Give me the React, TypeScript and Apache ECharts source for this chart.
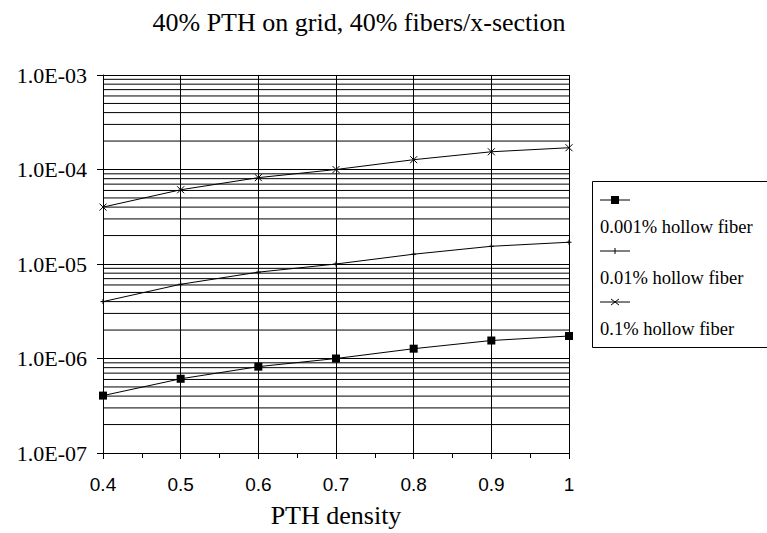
import React, { useEffect, useRef } from "react";
import * as echarts from "echarts";

const titleText = "40% PTH on grid, 40% fibers/x-section";
const xAxisName = "PTH density";
const pthDensity = [0.4, 0.5, 0.6, 0.7, 0.8, 0.9, 1.0];
const seriesNames = ["0.001% hollow fiber", "0.01% hollow fiber", "0.1% hollow fiber"];
const fiber0001 = [4.05e-7, 6.1e-7, 8.2e-7, 1.0e-6, 1.27e-6, 1.55e-6, 1.73e-6];
const fiber001 = [4.0e-6, 6.1e-6, 8.2e-6, 1.0e-5, 1.27e-5, 1.54e-5, 1.7e-5];
const fiber01 = [4.0e-5, 6.1e-5, 8.2e-5, 1.0e-4, 1.27e-4, 1.54e-4, 1.7e-4];
const yDecades = [1e-7, 1e-6, 1e-5, 1e-4];
const minorMultipliers = [2, 3, 4, 5, 6, 7, 8, 9];

const SERIF = "Liberation Serif";
const SANS = "Liberation Sans";

const plusPath = "path://M5,0L5,10M0,5L10,5";
const crossPath = "path://M0,0L10,10M10,0L0,10";

export default function App() {
  const ref = useRef<HTMLDivElement>(null);

  useEffect(() => {
    if (!ref.current) return;
    const chart = echarts.init(ref.current, undefined, { renderer: "svg" });

    const xFirst = pthDensity[0];
    const xLast = pthDensity[pthDensity.length - 1];
    const minorGrid: any[] = [];
    yDecades.forEach((d) =>
      minorMultipliers.forEach((m) => {
        const v = d * m;
        minorGrid.push([xFirst, v], [xLast, v], [xLast, "-"]);
      })
    );

    const toPairs = (vals: number[]) => pthDensity.map((x, i) => [x, vals[i]]);

    const lineStyle = { color: "#000", width: 1 };

    const legendX = 600;
    const legendRows = [200, 251, 302];
    const legendGraphics: any[] = [
      {
        type: "rect",
        shape: { x: 592.5, y: 181.5, width: 200, height: 166 },
        style: { fill: "#fff", stroke: "#000", lineWidth: 1 },
      },
    ];
    legendRows.forEach((yy, i) => {
      legendGraphics.push({
        type: "line",
        shape: { x1: legendX, y1: yy, x2: legendX + 30, y2: yy },
        style: { stroke: "#000", lineWidth: 1 },
      });
      const cx = legendX + 15;
      if (i === 0) {
        legendGraphics.push({
          type: "rect",
          shape: { x: cx - 4, y: yy - 4, width: 8, height: 8 },
          style: { fill: "#000" },
        });
      } else if (i === 1) {
        legendGraphics.push({
          type: "line",
          shape: { x1: cx, y1: yy - 3, x2: cx, y2: yy + 3 },
          style: { stroke: "#000", lineWidth: 1 },
        });
      } else {
        legendGraphics.push(
          {
            type: "line",
            shape: { x1: cx - 4, y1: yy - 3, x2: cx + 4, y2: yy + 3 },
            style: { stroke: "#000", lineWidth: 1 },
          },
          {
            type: "line",
            shape: { x1: cx - 4, y1: yy + 3, x2: cx + 4, y2: yy - 3 },
            style: { stroke: "#000", lineWidth: 1 },
          }
        );
      }
      legendGraphics.push({
        type: "text",
        x: legendX,
        y: yy + 27,
        style: {
          text: seriesNames[i],
          fill: "#000",
          fontFamily: SERIF,
          fontSize: 18.5,
          verticalAlign: "middle",
          align: "left",
        },
      });
    });

    const option: any = {
      animation: false,
      backgroundColor: "#fff",
      title: {
        text: titleText,
        left: 354,
        textAlign: "center",
        top: 4,
        textStyle: { fontFamily: SERIF, fontSize: 26, fontWeight: "normal", color: "#000" },
      },
      grid: { left: 103, right: 198, top: 75, bottom: 77 },
      xAxis: {
        type: "value",
        min: 0.4,
        max: 1,
        interval: 0.1,
        name: xAxisName,
        nameLocation: "middle",
        nameGap: 49,
        nameTextStyle: { fontFamily: SERIF, fontSize: 26, color: "#000" },
        axisLine: { lineStyle: { color: "#000", width: 1 } },
        axisTick: { show: true, length: 6, lineStyle: { color: "#000" } },
        minorTick: { show: true, splitNumber: 2, length: 5, lineStyle: { color: "#000" } },
        axisLabel: {
          margin: 22,
          fontFamily: SANS,
          fontSize: 19,
          color: "#000",
          formatter: (v: number) => String(Math.round(v * 10) / 10),
        },
        splitLine: { show: true, lineStyle: { color: "#000", width: 1 } },
      },
      yAxis: {
        type: "log",
        logBase: 10,
        min: 1e-7,
        max: 1e-3,
        axisLine: { show: true, lineStyle: { color: "#000", width: 1 } },
        axisTick: { show: true, length: 6, lineStyle: { color: "#000" } },
        axisLabel: {
          margin: 16,
          fontFamily: SERIF,
          fontSize: 22,
          color: "#000",
          formatter: (v: number) => {
            const e = Math.round(Math.log10(v));
            const a = Math.abs(e);
            return "1.0E" + (e < 0 ? "-" : "+") + (a < 10 ? "0" + a : String(a));
          },
        },
        splitLine: { show: true, lineStyle: { color: "#000", width: 1 } },
      },
      series: [
        {
          name: "minor grid",
          type: "line",
          data: minorGrid,
          symbol: "none",
          silent: true,
          connectNulls: false,
          z: 1,
          lineStyle: { color: "#000", width: 1 },
        },
        {
          name: seriesNames[0],
          type: "line",
          data: toPairs(fiber0001),
          symbol: "rect",
          symbolSize: 8,
          z: 3,
          itemStyle: { color: "#000" },
          lineStyle,
        },
        {
          name: seriesNames[1],
          type: "line",
          data: toPairs(fiber001),
          symbol: plusPath,
          symbolSize: 5,
          z: 3,
          itemStyle: { color: "#000", borderColor: "#000", borderWidth: 1 },
          lineStyle,
        },
        {
          name: seriesNames[2],
          type: "line",
          data: toPairs(fiber01),
          symbol: crossPath,
          symbolSize: 7,
          z: 3,
          itemStyle: { color: "#000", borderColor: "#000", borderWidth: 1 },
          lineStyle,
        },
      ],
      graphic: legendGraphics,
    };

    chart.setOption(option);
    return () => chart.dispose();
  }, []);

  return <div ref={ref} style={{ width: 767, height: 533, position: "absolute", left: 0, top: 0 }} />;
}
